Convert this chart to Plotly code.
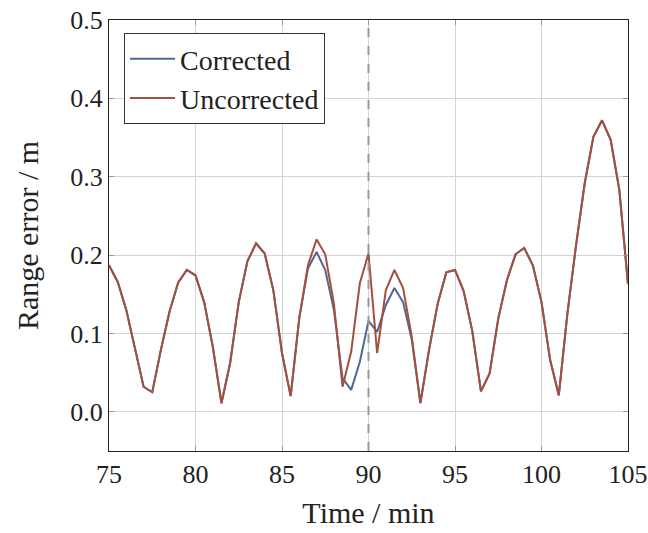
import plotly.graph_objects as go

time_min = [75.0, 75.5, 76.0, 76.5, 77.0, 77.5, 78.0, 78.5, 79.0, 79.5,
            80.0, 80.5, 81.0, 81.5, 82.0, 82.5, 83.0, 83.5, 84.0, 84.5,
            85.0, 85.5, 86.0, 86.5, 87.0, 87.5, 88.0, 88.5, 89.0, 89.5,
            90.0, 90.5, 91.0, 91.5, 92.0, 92.5, 93.0, 93.5, 94.0, 94.5,
            95.0, 95.5, 96.0, 96.5, 97.0, 97.5, 98.0, 98.5, 99.0, 99.5,
            100.0, 100.5, 101.0, 101.5, 102.0, 102.5, 103.0, 103.5, 104.0, 104.5,
            105.0]

uncorrected = [0.187, 0.166, 0.130, 0.083, 0.032, 0.025, 0.079, 0.128, 0.165, 0.181,
               0.174, 0.140, 0.083, 0.011, 0.062, 0.140, 0.192, 0.215, 0.202, 0.155,
               0.075, 0.020, 0.120, 0.187, 0.220, 0.201, 0.138, 0.032, 0.077, 0.164,
               0.202, 0.075, 0.155, 0.181, 0.158, 0.096, 0.011, 0.079, 0.138, 0.178,
               0.181, 0.154, 0.103, 0.026, 0.049, 0.119, 0.168, 0.201, 0.209, 0.187,
               0.140, 0.066, 0.021, 0.126, 0.213, 0.292, 0.351, 0.372, 0.347, 0.283,
               0.163]

corrected = [0.187, 0.166, 0.130, 0.083, 0.032, 0.025, 0.079, 0.128, 0.165, 0.181,
             0.174, 0.140, 0.083, 0.011, 0.062, 0.140, 0.192, 0.215, 0.202, 0.155,
             0.075, 0.020, 0.120, 0.183, 0.204, 0.181, 0.130, 0.043, 0.028, 0.064,
             0.116, 0.102, 0.136, 0.158, 0.140, 0.092, 0.011, 0.079, 0.138, 0.178,
             0.181, 0.154, 0.103, 0.026, 0.049, 0.119, 0.168, 0.201, 0.209, 0.187,
             0.140, 0.066, 0.021, 0.126, 0.213, 0.292, 0.351, 0.372, 0.347, 0.283,
             0.163]

marker_time = 90
x_ticks = [75, 80, 85, 90, 95, 100, 105]
y_ticks = [0.0, 0.1, 0.2, 0.3, 0.4, 0.5]

font_family = "Liberation Serif, DejaVu Serif, serif"

fig = go.Figure()
fig.add_trace(go.Scatter(x=time_min, y=corrected, mode="lines", name="Corrected",
                         line=dict(color="#4f6797", width=2)))
fig.add_trace(go.Scatter(x=time_min, y=uncorrected, mode="lines", name="Uncorrected",
                         line=dict(color="#a3503e", width=2)))

fig.add_vline(x=marker_time, line=dict(color="#999999", width=2, dash="dash"))

axis_common = dict(
    showline=True, linecolor="#222222", linewidth=1, mirror="ticks",
    showgrid=True, gridcolor="#d4d4d4", gridwidth=1,
    ticks="inside", ticklen=5, tickcolor="#9a9a9a", tickwidth=1,
    zeroline=False, automargin=False, ticklabeloverflow="allow",
    tickfont=dict(family=font_family, size=26, color="#222222"),
    title_font=dict(family=font_family, size=30, color="#222222"),
)

fig.update_layout(
    width=648, height=533,
    margin=dict(l=109, r=20, t=20, b=82),
    paper_bgcolor="white", plot_bgcolor="white",
    xaxis=dict(range=[75, 105], tickvals=x_ticks, title_text="Time / min",
               title_standoff=13, **axis_common),
    yaxis=dict(range=[-0.05, 0.5], tickvals=y_ticks, tickformat=".1f",
               title_text="Range error / m", title_standoff=22, **axis_common),
    legend=dict(x=0.029, y=0.97, xanchor="left", yanchor="top",
                bgcolor="white", bordercolor="#333333", borderwidth=1,
                font=dict(family=font_family, size=28, color="#222222"),
                tracegroupgap=0, itemwidth=45),
    showlegend=True,
)

# Remove the default page margin so the figure fills the 648x533 window exactly.
fig.write_html("out.html",
               config={"displayModeBar": False},
               post_script="document.body.style.margin='0';"
                           "document.body.style.overflow='hidden';")
